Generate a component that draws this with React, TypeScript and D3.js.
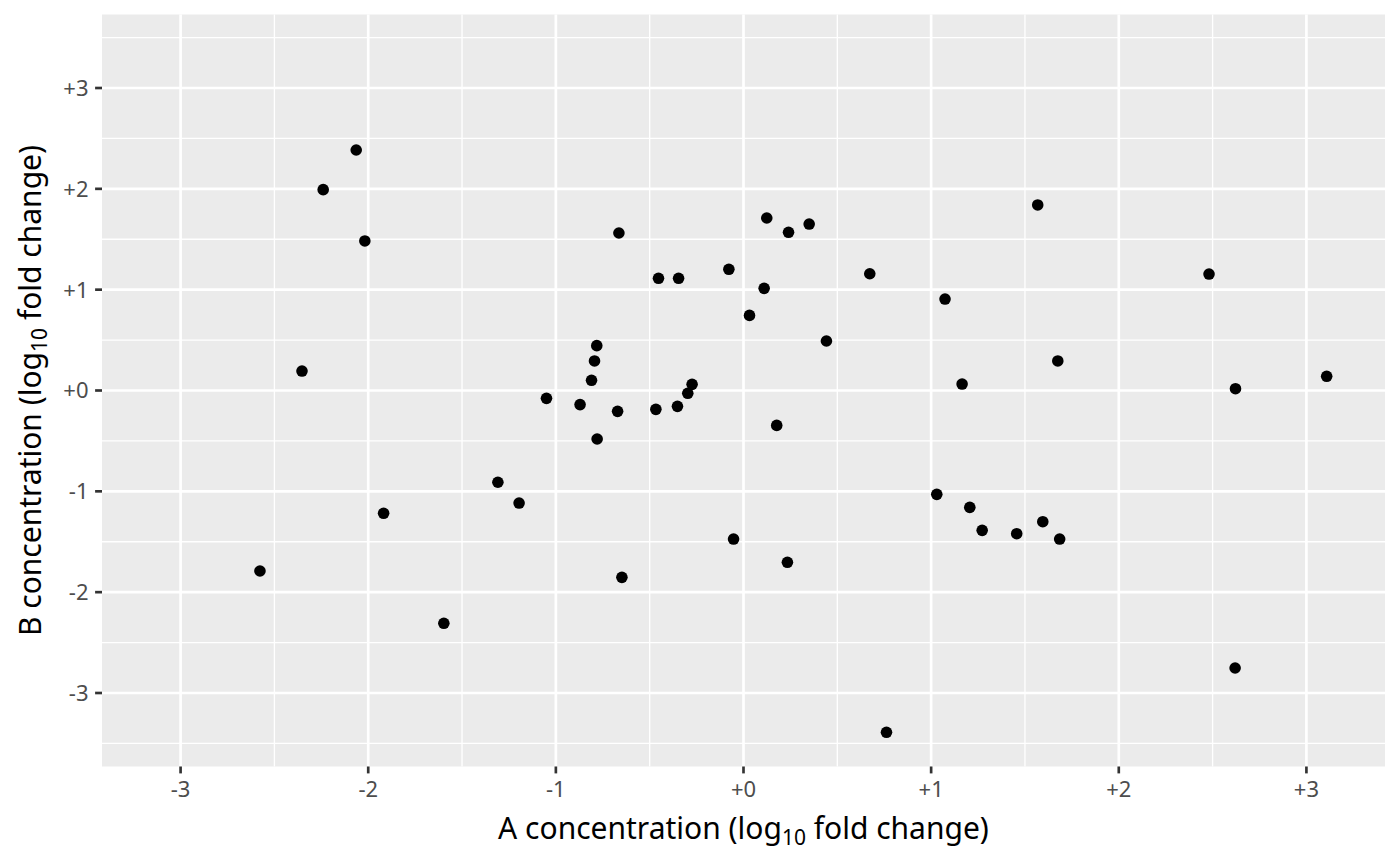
import React from 'react';
import * as d3 from 'd3';

// log10 fold change readings, one entry per sample
const aValues = [
  -2.577, -2.353, -2.240, -2.064, -2.018, -1.918, -1.597, -1.309, -1.196, -1.050,
  -0.871, -0.810, -0.794, -0.782, -0.780, -0.671, -0.664, -0.648, -0.467, -0.453,
  -0.352, -0.346, -0.297, -0.274, -0.078, -0.053, 0.032, 0.110, 0.124, 0.177,
  0.240, 0.234, 0.350, 0.442, 0.673, 0.762, 1.030, 1.074, 1.165, 1.206,
  1.272, 1.456, 1.568, 1.595, 1.675, 1.685, 2.481, 2.622, 2.620, 3.108
];
const bValues = [
  -1.790, 0.193, 1.992, 2.385, 1.483, -1.218, -2.309, -0.910, -1.116, -0.078,
  -0.140, 0.101, 0.293, 0.445, -0.481, -0.207, 1.562, -1.853, -0.187, 1.113,
  -0.157, 1.113, -0.028, 0.061, 1.202, -1.473, 0.745, 1.013, 1.711, -0.346,
  1.569, -1.704, 1.651, 0.491, 1.158, -3.390, -1.030, 0.907, 0.064, -1.159,
  -1.387, -1.420, 1.840, -1.301, 0.293, -1.473, 1.155, 0.018, -2.752, 0.141
];
const majorTicks = [-3, -2, -1, 0, 1, 2, 3];
const minorTicks = [-3.5, -2.5, -1.5, -0.5, 0.5, 1.5, 2.5, 3.5];

const width = 1400;
const height = 866;
const margin = { top: 14.5, right: 15, bottom: 99.5, left: 102 };

const fmt = (v: number) => (v >= 0 ? `+${v}` : `${v}`);
const font = '"Noto Sans", "DejaVu Sans", sans-serif';

const App: React.FC = () => {
  // symmetric limits with ggplot-style 5% expansion
  const xLim = d3.max(aValues, (d) => Math.abs(d))! * 1.1;
  const yLim = d3.max(bValues, (d) => Math.abs(d))! * 1.1;

  const x = d3.scaleLinear().domain([-xLim, xLim]).range([margin.left, width - margin.right]);
  const y = d3.scaleLinear().domain([-yLim, yLim]).range([height - margin.bottom, margin.top]);

  const inX = (v: number) => v >= -xLim && v <= xLim;
  const inY = (v: number) => v >= -yLim && v <= yLim;
  const [x0, x1] = x.range();
  const [y0, y1] = y.range();

  return (
    <svg
      width={width}
      height={height}
      style={{ position: 'absolute', left: 0, top: 0, display: 'block' }}
      fontFamily={font}
    >
      <rect x={0} y={0} width={width} height={height} fill="#ffffff" />
      <rect x={x0} y={y1} width={x1 - x0} height={y0 - y1} fill="#EBEBEB" />

      {/* minor grid */}
      {minorTicks.filter(inX).map((t) => (
        <line key={`mx${t}`} x1={x(t)} x2={x(t)} y1={y1} y2={y0} stroke="#fff" strokeWidth={1.33} />
      ))}
      {minorTicks.filter(inY).map((t) => (
        <line key={`my${t}`} x1={x0} x2={x1} y1={y(t)} y2={y(t)} stroke="#fff" strokeWidth={1.33} />
      ))}
      {/* major grid */}
      {majorTicks.filter(inX).map((t) => (
        <line key={`Mx${t}`} x1={x(t)} x2={x(t)} y1={y1} y2={y0} stroke="#fff" strokeWidth={2.67} />
      ))}
      {majorTicks.filter(inY).map((t) => (
        <line key={`My${t}`} x1={x0} x2={x1} y1={y(t)} y2={y(t)} stroke="#fff" strokeWidth={2.67} />
      ))}

      {/* points */}
      {aValues.map((a, i) => (
        <circle key={i} cx={x(a)} cy={y(bValues[i])} r={5.8} fill="#000" />
      ))}

      {/* x axis */}
      {majorTicks.filter(inX).map((t) => (
        <g key={`xt${t}`}>
          <line x1={x(t)} x2={x(t)} y1={y0} y2={y0 + 6.9} stroke="#333333" strokeWidth={2.67} />
          <text x={x(t)} y={797} textAnchor="middle" fontSize={22} fill="#4D4D4D">
            {fmt(t)}
          </text>
        </g>
      ))}
      {/* y axis */}
      {majorTicks.filter(inY).map((t) => (
        <g key={`yt${t}`}>
          <line x1={x0 - 6.9} x2={x0} y1={y(t)} y2={y(t)} stroke="#333333" strokeWidth={2.67} />
          <text x={88.5} y={y(t) + 7.9} textAnchor="end" fontSize={22} fill="#4D4D4D">
            {fmt(t)}
          </text>
        </g>
      ))}

      {/* axis titles */}
      <text x={(x0 + x1) / 2} y={838.6} textAnchor="middle" fontSize={30} fill="#000">
        A concentration (log
        <tspan fontSize={21} dy={6}>10</tspan>
        <tspan dy={-6}> fold change)</tspan>
      </text>
      <text
        transform={`translate(40.7, ${(y0 + y1) / 2}) rotate(-90)`}
        textAnchor="middle"
        fontSize={30}
        fill="#000"
      >
        B concentration (log
        <tspan fontSize={21} dy={6}>10</tspan>
        <tspan dy={-6}> fold change)</tspan>
      </text>
    </svg>
  );
};

export default App;
